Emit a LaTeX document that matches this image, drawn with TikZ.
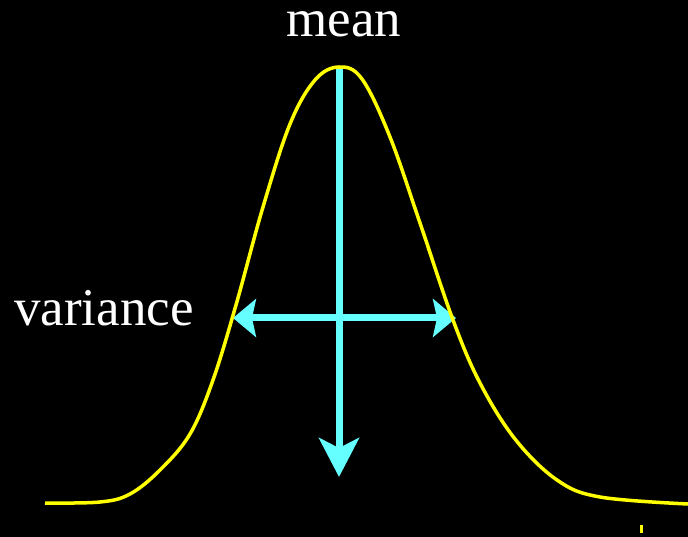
\documentclass[tikz,border=0pt]{standalone}
\usepackage{fontspec}
\setmainfont{Liberation Serif}
\usepackage{xcolor}
\usepackage{tikz}
\usetikzlibrary{arrows.meta}
\definecolor{curvecol}{RGB}{255,255,0}
\definecolor{arrowcol}{RGB}{102,255,255}
\tikzset{
  label/.style={
    text=white,
    inner sep=0pt,
    text height=0.7em,
    text depth=0.2em,
    font=\fontsize{53}{60}\selectfont
  },
  curve/.style={draw=curvecol, line width=3.5pt, line join=round},
  meanarrow/.style={draw=arrowcol, line width=7pt,
    -{Stealth[length=39pt, width=40pt, inset=10pt]}},
  vararrow/.style={draw=arrowcol, line width=7pt,
    {Stealth[length=23pt, width=38pt, inset=4pt]}-{Stealth[length=23pt, width=38pt, inset=4pt]}}
}

\begin{document}
\begin{tikzpicture}[x=1pt,y=-1pt]
    \fill[black] (0,0) rectangle (688,537);
    \useasboundingbox (0,0) rectangle (688,537);

    \node[label, anchor=base] (mean) at (344,37) {mean};
    \node[label, anchor=base] (variance) at (104,325) {variance};

    \coordinate (peak) at (339,67);
    \coordinate (meanend) at (339,477);
    \coordinate (varleft) at (233,318);
    \coordinate (varright) at (456,318);

    \draw[meanarrow] (peak) -- (meanend);
    \draw[vararrow] (varleft) -- (varright);

    \draw[curve] plot[smooth, tension=0.6] coordinates {
      (45,503) (100,502) (130,494) (160,470) (190,434) (213,380) (236,305)
      (263,207) (290,124) (315,80) (339,67) (362,79) (390,137) (420,223)
      (453,320) (480,383) (515,439) (557,480) (600,497) (688,504)};

    \fill[curvecol] (640,525) rectangle (643,533);
  \end{tikzpicture}
\end{document}
